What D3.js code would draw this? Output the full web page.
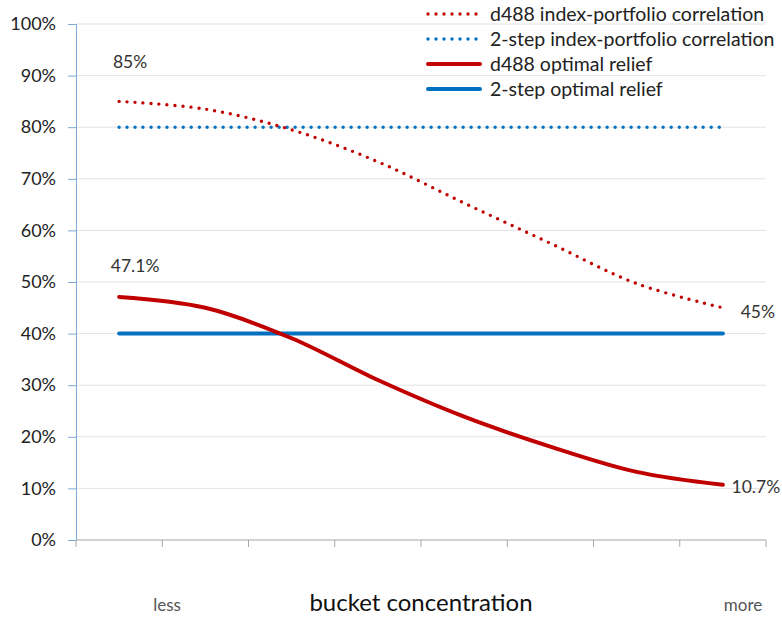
<!DOCTYPE html>
<html>
<head>
<meta charset="utf-8">
<script src="https://cdn.jsdelivr.net/npm/d3@7"></script>
<style>
body { margin: 0; background: #fff; }
text { font-family: Lato, "Noto Sans", sans-serif; }
</style>
</head>
<body>
<script>
// chart data
var buckets = [1, 2, 3, 4, 5, 6, 7, 8];
var d488Corr = [0.85, 0.835, 0.795, 0.733, 0.653, 0.575, 0.497, 0.45];
var twoStepCorr = [0.80, 0.80, 0.80, 0.80, 0.80, 0.80, 0.80, 0.80];
var d488Relief = [0.471, 0.45, 0.391, 0.31, 0.239, 0.181, 0.132, 0.107];
var twoStepRelief = [0.40, 0.40, 0.40, 0.40, 0.40, 0.40, 0.40, 0.40];
var yTicks = [0, 0.1, 0.2, 0.3, 0.4, 0.5, 0.6, 0.7, 0.8, 0.9, 1.0];
var seriesNames = ["d488 index-portfolio correlation", "2-step index-portfolio correlation",
                   "d488 optimal relief", "2-step optimal relief"];

var W = 782, H = 617;
var plotL = 76, plotR = 766, plotT = 24, plotB = 540;

var svg = d3.select("body").append("svg")
  .attr("width", W)
  .attr("height", H);

var x = d3.scaleBand().domain(buckets).range([plotL, plotR]);
var cx = function(d) { return x(d) + x.bandwidth() / 2; };
var y = d3.scaleLinear().domain([0, 1]).range([plotB, plotT]);

// gridlines
svg.append("g").selectAll("line")
  .data(yTicks.slice(1))
  .enter().append("line")
  .attr("x1", plotL).attr("x2", plotR)
  .attr("y1", function(d) { return y(d); })
  .attr("y2", function(d) { return y(d); })
  .attr("stroke", "#e3e3e3")
  .attr("stroke-width", 1);

// y axis
var yAxis = svg.append("g")
  .attr("transform", "translate(" + plotL + ",0)")
  .call(d3.axisLeft(y).tickValues(yTicks).tickFormat(d3.format(".0%")).tickSize(8).tickPadding(12));
yAxis.select(".domain").attr("stroke", "#7fa7d8");
yAxis.selectAll(".tick line").attr("stroke", "#7fa7d8");
yAxis.selectAll("text").attr("font-size", 18).attr("fill", "#222")
  .style("font-family", "Lato, 'Noto Sans', sans-serif");

// x axis, tick marks at the band edges
var xAxis = svg.append("g")
  .attr("transform", "translate(0," + plotB + ")");
xAxis.append("line")
  .attr("x1", plotL).attr("x2", plotR)
  .attr("stroke", "#a6a6a6");
xAxis.selectAll(".edge")
  .data(buckets.concat([null]))
  .enter().append("line")
  .attr("class", "edge")
  .attr("x1", function(d, i) { return plotL + i * x.bandwidth(); })
  .attr("x2", function(d, i) { return plotL + i * x.bandwidth(); })
  .attr("y1", 0).attr("y2", 7)
  .attr("stroke", "#a6a6a6");

var line = d3.line()
  .x(function(d, i) { return cx(buckets[i]); })
  .y(function(d) { return y(d); })
  .curve(d3.curveCatmullRom.alpha(0.5));

var series = [
  { vals: d488Corr, color: "#c00000", dotted: true },
  { vals: twoStepCorr, color: "#0070c0", dotted: true },
  { vals: d488Relief, color: "#c00000", dotted: false },
  { vals: twoStepRelief, color: "#0070c0", dotted: false }
];

var styleLine = function(sel, s) {
  sel.attr("fill", "none")
    .attr("stroke", s.color)
    .attr("stroke-linecap", "round");
  if (s.dotted) {
    sel.attr("stroke-width", 3.4).attr("stroke-dasharray", "0 8");
  } else {
    sel.attr("stroke-width", 4);
  }
};

// draw solid ones first, dotted on top
[3, 2, 1, 0].forEach(function(k) {
  var s = series[k];
  svg.append("path").datum(s.vals).attr("d", line).call(styleLine, s);
});

// data labels
var labels = [
  { v: d488Corr[0], i: 0, dx: 11, dy: -40 },
  { v: d488Relief[0], i: 0, dx: 16, dy: -31 },
  { v: d488Corr[7], i: 7, dx: 35, dy: 4 },
  { v: d488Relief[7], i: 7, dx: 33, dy: 2 }
];
svg.selectAll(".dlabel")
  .data(labels)
  .enter().append("text")
  .attr("class", "dlabel")
  .attr("x", function(d) { return cx(buckets[d.i]) + d.dx; })
  .attr("y", function(d) { return y(d.v) + d.dy; })
  .attr("dy", "0.35em")
  .attr("text-anchor", "middle")
  .attr("font-size", 17.5)
  .attr("fill", "#333")
  .text(function(d) { return d3.format(Math.round(d.v * 1000) % 10 === 0 ? ".0%" : ".1%")(d.v); });

// legend
var lg = svg.append("g").attr("transform", "translate(428,14)");
seriesNames.forEach(function(name, k) {
  var row = lg.append("g").attr("transform", "translate(0," + (k * 25) + ")");
  row.append("line").attr("x1", 0).attr("x2", 52).attr("y1", 0).attr("y2", 0)
    .call(styleLine, series[k]);
  row.append("text").attr("x", 62).attr("y", 0).attr("dy", "0.35em")
    .attr("font-size", 19.5).attr("fill", "#222").text(name);
});

// axis captions
svg.append("text").attr("x", 167).attr("y", 605).attr("dy", "0.35em")
  .attr("text-anchor", "middle").attr("font-size", 17).attr("fill", "#555").text("less");
svg.append("text").attr("x", 743).attr("y", 605).attr("dy", "0.35em")
  .attr("text-anchor", "middle").attr("font-size", 17).attr("fill", "#555").text("more");
svg.append("text").attr("x", 421).attr("y", 603).attr("dy", "0.35em")
  .attr("text-anchor", "middle").attr("font-size", 24).attr("fill", "#111").text("bucket concentration");
</script>
</body>
</html>
